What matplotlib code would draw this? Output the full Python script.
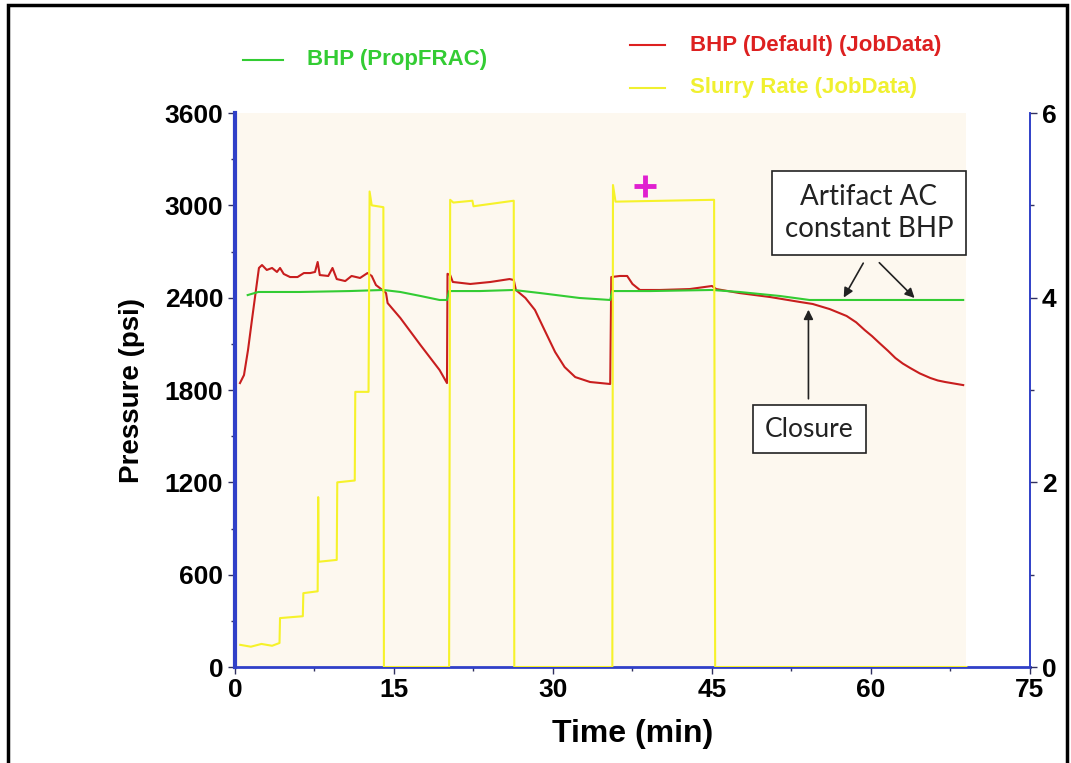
import matplotlib
matplotlib.use('agg')
import matplotlib.pyplot as plt
from matplotlib.patches import Rectangle
from matplotlib.ticker import MultipleLocator

# read data
# BHP (Default) (JobData), psi
red_t = [0.47, 0.85, 1.23, 1.6, 1.98, 2.26, 2.55, 3.0, 3.5, 3.96, 4.25, 4.6, 5.2, 5.9, 6.5, 7.1, 7.55,
         7.8, 8.0, 8.8, 9.2, 9.6, 10.4, 11.0, 11.8, 12.5, 12.9, 13.3, 13.9, 14.25, 14.4, 15.6, 17.5,
         19.3, 20.0, 20.05, 20.3, 20.55, 22.2, 24.1, 25.9, 26.3, 26.5, 27.4, 28.3, 29.2, 30.2, 31.1,
         32.1, 33.5, 35.4, 35.5, 36.3, 37.0, 37.5, 38.2, 40.1, 42.9, 45.0, 45.4, 47.6, 50.5, 53.3,
         54.5, 56.1, 57.7, 58.6, 59.4, 60.1, 60.8, 61.6, 62.3, 63.0, 63.7, 64.6, 65.6, 66.3, 67.0, 68.7]
red_p = [1845, 1897, 2060, 2255, 2450, 2593, 2612, 2580, 2593, 2567, 2593, 2554, 2534, 2534, 2560, 2560, 2567,
         2632, 2547, 2541, 2593, 2521, 2508, 2541, 2528, 2560, 2541, 2482, 2450, 2430, 2365, 2268, 2092,
         1930, 1845, 2555, 2547, 2502, 2489, 2502, 2521, 2515, 2450, 2398, 2320, 2190, 2047, 1949,
         1884, 1852, 1839, 2534, 2541, 2541, 2489, 2450, 2450, 2456, 2476, 2456, 2430, 2404, 2372,
         2359, 2326, 2281, 2240, 2190, 2150, 2105, 2055, 2008, 1972, 1943, 1908, 1878, 1862, 1852, 1832]

# BHP (PropFRAC), psi
green_t = [1.2, 2.2, 6.1, 10.8, 14.0, 15.6, 17.5, 19.3, 20.0, 20.2, 23.1, 26.3, 28.8, 32.5, 35.4,
           35.6, 39.2, 45.0, 47.6, 51.4, 54.2, 68.7]
green_p = [2417, 2437, 2437, 2443, 2450, 2437, 2411, 2385, 2385, 2443, 2443, 2450, 2430, 2398, 2385,
           2443, 2443, 2450, 2437, 2411, 2385, 2385]

# Slurry Rate (JobData), right axis
rate_t = [0.5, 1.5, 2.5, 3.5, 4.2, 4.25, 6.4, 6.45, 7.8, 7.85, 7.9, 9.6, 9.65, 11.3, 11.35, 12.6,
          12.7, 12.9, 14.0, 14.05, 20.2, 20.3, 20.6, 22.4, 22.5, 26.3, 26.35, 35.6, 35.66, 35.9,
          45.2, 45.3, 69.0]
rate_v = [0.24, 0.22, 0.25, 0.23, 0.26, 0.53, 0.55, 0.80, 0.82, 1.84, 1.14, 1.16, 2.0, 2.02, 2.98, 2.98,
          5.15, 5.0, 4.98, 0.0, 0.0, 5.06, 5.03, 5.05, 4.99, 5.05, 0.0, 0.0, 5.22, 5.04,
          5.06, 0.0, 0.0]

plus_t = [38.7]
plus_p = [3125]

BLUE = '#3040c8'
BOLD = dict(family=['Liberation Sans', 'DejaVu Sans'], fontweight='bold')

fig = plt.figure(figsize=(10.71, 7.63), dpi=100)
fig.patches.append(Rectangle((8 / 1071, -0.05), (1067 - 8) / 1071, 1.05 - 5 / 763,
                             transform=fig.transFigure, fill=False, edgecolor='black', linewidth=2.5))

ax = fig.add_axes([0.2194, 0.1258, 0.9617 - 0.2194, 0.8519 - 0.1258])
ax.set_facecolor('white')
ax.axvspan(0, 69.0, color='#fdf8ef', zorder=0, linewidth=0)
ax.plot(green_t, green_p, color='#33cc33', linewidth=1.5, zorder=3)
ax.plot(red_t, red_p, color='#c81e1e', linewidth=1.5, zorder=2)
ax.plot(plus_t, plus_p, marker='+', color='#e020d0', markersize=16, markeredgewidth=3.5, linestyle='none', zorder=5)

ax.set_xlim(0, 75)
ax.set_ylim(0, 3600)
ax.xaxis.set_major_locator(MultipleLocator(15))
ax.xaxis.set_minor_locator(MultipleLocator(7.5))
ax.yaxis.set_major_locator(MultipleLocator(600))
ax.yaxis.set_minor_locator(MultipleLocator(300))

ax2 = ax.twinx()
ax2.plot(rate_t, rate_v, color='#f6f22a', linewidth=1.5)
ax2.set_ylim(0, 6)
ax2.yaxis.set_major_locator(MultipleLocator(2))
ax2.yaxis.set_minor_locator(MultipleLocator(1))

for a in (ax, ax2):
    a.spines['top'].set_visible(False)
    a.spines['left'].set_color(BLUE)
    a.spines['right'].set_color(BLUE)
    a.spines['bottom'].set_color(BLUE)
    a.tick_params(which='both', colors='#303060', labelcolor='black', labelsize=19)
    a.tick_params(which='major', length=5, width=1)
    a.tick_params(which='minor', length=3, width=1)
    for lab in a.get_xticklabels() + a.get_yticklabels():
        lab.set_fontweight('bold')
        lab.set_family(['Liberation Sans', 'DejaVu Sans'])
ax.spines['left'].set_linewidth(3)
ax.spines['bottom'].set_linewidth(2)
ax.spines['right'].set_linewidth(1.2)
ax2.spines['left'].set_visible(False)
ax2.spines['right'].set_linewidth(1.2)
ax2.spines['bottom'].set_visible(False)
ax.tick_params(axis='x', pad=3)

ax.set_xlabel('Time (min)', fontsize=23, labelpad=12, **BOLD)
ax.set_ylabel('Pressure (psi)', fontsize=20, labelpad=14, **BOLD)

# legend drawn as loose entries on top, like the original
leg = [(243, 283, 60, 307, '#33cc33', 'BHP (PropFRAC)'),
       (630, 665, 45, 690, '#dd2020', 'BHP (Default) (JobData)'),
       (630, 665, 88, 690, '#f0f030', 'Slurry Rate (JobData)')]
for x0, x1, yy, xt, c, txt in leg:
    fig.lines.append(plt.Line2D([x0 / 1071, x1 / 1071], [1 - yy / 763] * 2, color=c,
                                linewidth=1.5, transform=fig.transFigure))
    fig.text(xt / 1071, 1 - yy / 763, txt, color=c, fontsize=16, va='center', ha='left', **BOLD)

box = dict(boxstyle='square,pad=0.45', facecolor='white', edgecolor='#222222', linewidth=1.2)
note_font = ['Lato', 'DejaVu Sans']
ax.text(59.8, 2950, 'Artifact AC\nconstant BHP', fontsize=20, family=note_font, ha='center', va='center',
        bbox=box, color='#222222', linespacing=1.3, zorder=6)
ax.annotate('', xy=(57.3, 2385), xytext=(59.4, 2640),
            arrowprops=dict(arrowstyle='-|>', color='#222222', lw=1.2, mutation_scale=14))
ax.annotate('', xy=(64.3, 2385), xytext=(60.6, 2640),
            arrowprops=dict(arrowstyle='-|>', color='#222222', lw=1.2, mutation_scale=14))
ax.text(54.2, 1546, 'Closure', fontsize=19, family=note_font, ha='center', va='center',
        bbox=box, color='#222222', zorder=6)
ax.annotate('', xy=(54.1, 2340), xytext=(54.1, 1725),
            arrowprops=dict(arrowstyle='-|>', color='#222222', lw=1.2, mutation_scale=14))

fig.savefig('out.png', dpi=100)
